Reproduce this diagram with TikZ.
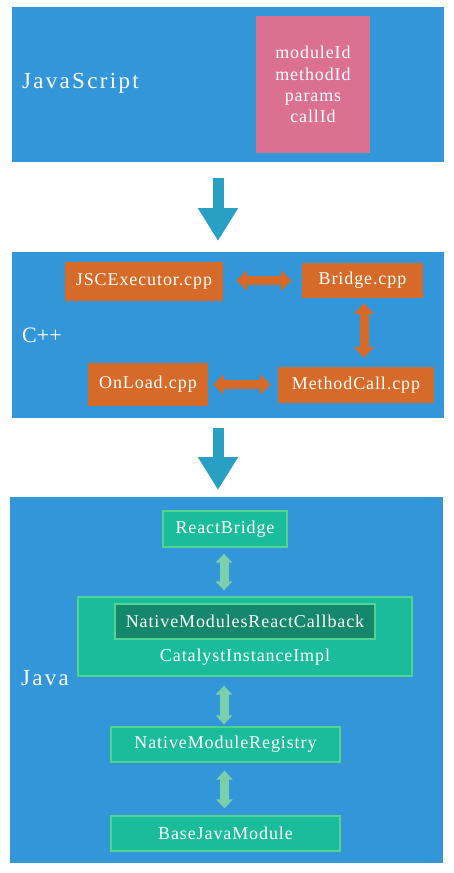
\documentclass[tikz,border=0pt]{standalone}
\usepackage{fontspec}
\setmainfont[LetterSpace=5]{Liberation Serif}
\newfontfamily\labelfont[LetterSpace=10]{Liberation Serif}
\newfontfamily\plainlabelfont{Liberation Serif}
\usetikzlibrary{arrows.meta}
\definecolor{bgblue}{HTML}{3396D8}
\definecolor{pinkbox}{HTML}{DB7093}
\definecolor{orangebox}{HTML}{D66B29}
\definecolor{greenbox}{HTML}{1ABC9C}
\definecolor{greenborder}{HTML}{52D38E}
\definecolor{darkgreen}{HTML}{15876C}
\definecolor{greenarrow}{HTML}{7BCFAA}
\definecolor{tealarrow}{HTML}{2A9FC4}
\tikzset{
  layer/.style={fill=bgblue, draw=none, inner sep=0pt},
  label/.style={text=white, font=\labelfont\fontsize{23}{26}\selectfont, anchor=west, inner sep=0pt},
  boxtext/.style={font=\fontsize{18}{21}\selectfont},
  orangenode/.style={fill=orangebox, text=white, inner sep=0pt, boxtext},
  greennode/.style={fill=greenbox, draw=greenborder, line width=1.2pt, text=white, inner sep=0pt, boxtext},
  bigarrow/.style={draw=tealarrow, line width=11pt, -{Triangle[width=38pt,length=33pt]}},
  orangearrow/.style={draw=orangebox, line width=9pt, {Triangle[width=20pt,length=11pt]}-{Triangle[width=20pt,length=11pt]}},
  greenarrow/.style={draw=greenarrow, line width=9pt, {Triangle[width=16pt,length=9pt]}-{Triangle[width=16pt,length=9pt]}},
}
\begin{document}
\begin{tikzpicture}[x=1pt,y=-1pt]
\useasboundingbox[fill=white] (0,0) rectangle (454,873);
% JavaScript layer
\node[layer, minimum width=432pt, minimum height=155pt] (js) at (228,84.5) {};
\node[label] (jslabel) at (22,83) {JavaScript};
\node[fill=pinkbox, text=white, inner sep=0pt, minimum width=114pt, minimum height=137pt, align=center, font=\fontsize{18}{21.3}\selectfont] (params) at (313,84.5) {moduleId\\methodId\\params\\callId};
% C++ layer
\node[layer, minimum width=432pt, minimum height=166pt] (cpp) at (228,335) {};
\node[label, font=\plainlabelfont\fontsize{22}{26}\selectfont] (cpplabel) at (22,335) {C++};
\node[orangenode, minimum width=158pt, minimum height=39pt] (jsc) at (144,281.5) {JSCExecutor.cpp};
\node[orangenode, minimum width=121pt, minimum height=35pt] (bridge) at (362.5,280.5) {Bridge.cpp};
\node[orangenode, minimum width=120pt, minimum height=43pt] (onload) at (148,384.5) {OnLoad.cpp};
\node[orangenode, minimum width=156pt, minimum height=36pt] (mcall) at (356,385) {MethodCall.cpp};
% Java layer
\node[layer, minimum width=433pt, minimum height=366pt] (java) at (226.5,680) {};
\node[label] (javalabel) at (21,678) {Java};
\node[greennode, minimum width=124pt, minimum height=36pt] (rb) at (225,529) {ReactBridge};
\node[greennode, minimum width=334pt, minimum height=79pt] (cat) at (245,636.5) {};
\node[fill=darkgreen, draw=greenborder, line width=1.2pt, text=white, inner sep=0pt, minimum width=260pt, minimum height=35pt, boxtext] (nmrc) at (245,621.5) {NativeModulesReactCallback};
\node[text=white, inner sep=0pt, boxtext] (catlabel) at (245,657) {CatalystInstanceImpl};
\node[greennode, minimum width=229pt, minimum height=35pt] (nmr) at (225.5,744.5) {NativeModuleRegistry};
\node[greennode, minimum width=229pt, minimum height=35pt] (bjm) at (225.5,833.5) {BaseJavaModule};
% big arrows
\coordinate (a1s) at (218,162);
\coordinate (a1e) at (218,252);
\coordinate (a2s) at (218,418);
\coordinate (a2e) at (218,497);
\draw[bigarrow, shorten <=16pt, shorten >=11pt] (a1s) -- (a1e);
\draw[bigarrow, shorten <=10pt, shorten >=7pt] (a2s) -- (a2e);
% orange arrows
\draw[orangearrow, shorten <=13pt, shorten >=10pt] (jsc.east |- bridge.west) -- (bridge.west);
\draw[orangearrow, shorten <=5pt, shorten >=9pt] ([xshift=1.5pt]bridge.south) -- ([xshift=1.5pt]bridge.south |- mcall.north);
\draw[orangearrow, shorten <=5pt, shorten >=7pt] (onload.east) -- (onload.east -| mcall.west);
% green arrows
\draw[greenarrow, shorten <=6pt, shorten >=6pt] ([xshift=-1pt]rb.south) -- ([xshift=-1pt]rb.south |- cat.north);
\draw[greenarrow, shorten <=9pt, shorten >=2pt] ([xshift=-1pt]rb.south |- cat.south) -- ([xshift=-1pt]rb.south |- nmr.north);
\draw[greenarrow, shorten <=8pt, shorten >=7pt] ([xshift=-1pt]nmr.south) -- ([xshift=-1pt]bjm.north);
\end{tikzpicture}
\end{document}
